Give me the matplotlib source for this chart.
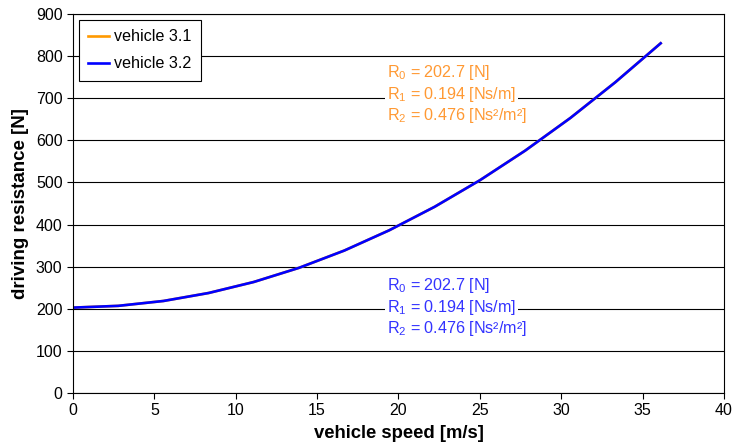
import matplotlib.pyplot as plt

plt.rcParams['font.family'] = ['Liberation Sans', 'DejaVu Sans']
plt.rcParams['mathtext.fontset'] = 'custom'
plt.rcParams['mathtext.rm'] = 'Liberation Sans'
plt.rcParams['mathtext.it'] = 'Liberation Sans'

# speed in m/s (10 km/h steps) and driving resistance in N
speed = [0.0, 2.78, 5.56, 8.33, 11.11, 13.89, 16.67, 19.44, 22.22, 25.0, 27.78, 30.56, 33.33, 36.11]
res_31 = [202.7, 206.9, 218.5, 237.4, 263.6, 297.2, 338.2, 386.5, 442.1, 505.1, 575.4, 653.0, 738.1, 830.4]
res_32 = [202.7, 206.9, 218.5, 237.4, 263.6, 297.2, 338.2, 386.5, 442.1, 505.1, 575.4, 653.0, 738.1, 830.4]

coef_31 = ["R$_0$ = 202.7 [N]", "R$_1$ = 0.194 [Ns/m]", "R$_2$ = 0.476 [Ns\u00b2/m\u00b2]"]
coef_32 = ["R$_0$ = 202.7 [N]", "R$_1$ = 0.194 [Ns/m]", "R$_2$ = 0.476 [Ns\u00b2/m\u00b2]"]

fig = plt.figure(figsize=(7.35, 4.48), dpi=100)
ax = fig.add_axes([0.0993, 0.1228, 0.8857, 0.846])

ax.plot(speed, res_31, color='#FF9900', lw=1.9, label='vehicle 3.1')
ax.plot(speed, res_32, color='#0000FF', lw=1.9, label='vehicle 3.2')

ax.set_xlim(0, 40)
ax.set_ylim(0, 900)
ax.set_xticks(range(0, 41, 5))
ax.set_yticks(range(0, 901, 100))
ax.yaxis.grid(True, color='black', lw=0.8)
ax.set_axisbelow(True)
ax.tick_params(direction='out', length=4, width=0.8, labelsize=11.5, colors='black')
for s in ax.spines.values():
    s.set_linewidth(0.8)

ax.set_xlabel('vehicle speed [m/s]', fontsize=13.3, fontweight='bold', labelpad=5)
ax.set_ylabel('driving resistance [N]', fontsize=13.5, fontweight='bold', labelpad=5)

# coefficient annotations
for txt, y in zip(coef_31, [762, 708, 658]):
    ax.text(19.3, y, txt, color='#FF9933', fontsize=11.6, va='center', ha='left',
            bbox=dict(facecolor='white', edgecolor='none', pad=1.5))
for txt, y in zip(coef_32, [256, 204, 154]):
    ax.text(19.3, y, txt, color='#3333FF', fontsize=11.6, va='center', ha='left',
            bbox=dict(facecolor='white', edgecolor='none', pad=1.5))

leg = ax.legend(loc='upper left', fontsize=11.6, fancybox=False, edgecolor='black',
                framealpha=1, handlelength=1.3, handletextpad=0.3,
                borderpad=0.6, labelspacing=0.75, borderaxespad=0.35)
leg.get_frame().set_linewidth(0.8)

fig.savefig('out.png', dpi=100)
